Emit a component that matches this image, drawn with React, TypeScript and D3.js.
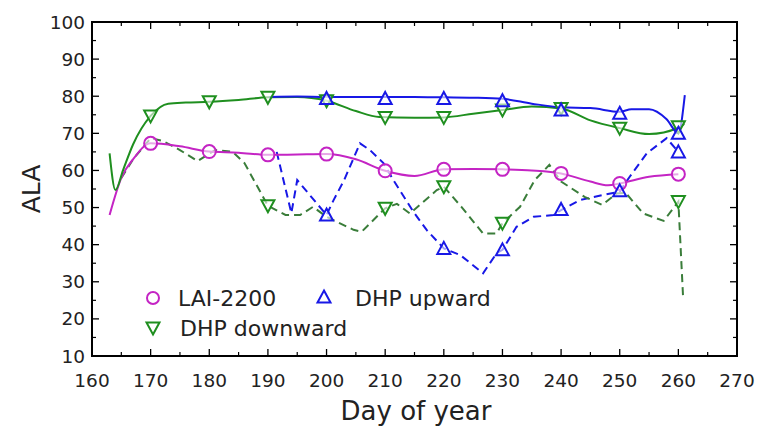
import { useEffect } from 'react'
import * as d3 from 'd3'

// valores (dia do ano / ALA em graus)
const laiLineDays = [163, 165, 167, 170, 175, 180, 185, 190, 195, 200, 205, 210, 215, 220, 225, 230, 235, 240, 245, 248, 250, 255, 260]
const laiLineVals = [48, 58, 63, 67.3, 66.5, 65.1, 64.8, 64.2, 64.3, 64.4, 63, 59.9, 58.5, 60.3, 60.4, 60.3, 60, 59.2, 57, 56, 56.5, 58.3, 59]
const laiMarkDays = [170, 180, 190, 200, 210, 220, 230, 240, 250, 260]
const laiMarkVals = [67.3, 65.1, 64.2, 64.4, 59.9, 60.3, 60.3, 59.2, 56.5, 59]

const downSolidDays = [163, 164, 165.3, 167, 170, 173, 176, 180, 185, 190, 195, 200, 205, 209, 215, 220, 225, 230, 235, 240, 245, 250, 255, 260, 261]
const downSolidVals = [64.6, 54.7, 60.1, 67, 74.7, 78, 78.3, 78.5, 79, 79.7, 79.8, 78.8, 76, 74.4, 74.2, 74.3, 75.3, 76.3, 77.2, 76.7, 73.5, 71.4, 69.8, 71.5, 72.5]
const downSolidMarkDays = [170, 180, 190, 200, 210, 220, 230, 240, 250, 260]
const downSolidMarkVals = [74.7, 78.5, 79.7, 78.8, 74.3, 74.3, 76.3, 76.7, 71.4, 71.8]

const downDashDays = [165, 167, 170, 172, 175, 178, 181, 184, 186, 190, 193, 195.5, 197.7, 200, 204.6, 206, 210, 212, 214.2, 218.8, 220, 223, 226.7, 229, 230, 233, 235.5, 238, 240, 244, 247, 249.5, 251, 254, 257.5, 260, 260.8]
const downDashVals = [58, 63, 68.7, 68, 65.5, 62.5, 65.5, 65, 62, 50.5, 48, 48, 50.2, 47.5, 44, 43.5, 49.8, 51, 48.4, 54.7, 55.6, 50.2, 43, 43, 45.8, 50.2, 57.4, 61.5, 57, 52.9, 50.7, 53.8, 54, 48.4, 46.4, 51.6, 26]
const downDashMarkDays = [190, 210, 220, 230, 260]
const downDashMarkVals = [50.5, 49.8, 55.6, 45.8, 51.6]

const upSolidDays = [190.3, 195, 200, 205, 210, 215, 220, 225, 230, 235, 240, 245, 250, 252, 255, 258, 260, 261.1]
const upSolidVals = [79.8, 79.9, 79.8, 79.8, 79.8, 79.8, 79.7, 79.6, 79.3, 78, 77, 76.8, 75.8, 76.5, 76.5, 73.8, 70, 80.3]
const upSolidMarkDays = [200, 210, 220, 230, 240, 250, 260]
const upSolidMarkVals = [79.4, 79.4, 79.4, 78.8, 76.3, 75.4, 70]

const upDashDays = [191.5, 194, 195, 200, 201.2, 203, 205.7, 207.4, 209.7, 211.4, 214.8, 217.1, 220, 222.8, 226.7, 229, 230, 232.4, 235.3, 238.7, 240, 243.2, 247.2, 250, 251.7, 254.6, 258, 260]
const upDashVals = [65, 48.5, 57.4, 48, 52, 57.4, 67.3, 65.5, 62, 57.4, 48.9, 43.9, 39, 37.2, 32.3, 37.7, 38.6, 44.8, 47.5, 48, 49.3, 52, 53.4, 54.3, 58.3, 64.6, 68.7, 65]
const upDashMarkDays = [200, 220, 230, 240, 250, 260]
const upDashMarkVals = [48, 39, 38.6, 49.5, 54.5, 65]

const xTicks = d3.range(160, 271, 10)
const yTicks = d3.range(10, 101, 10)

const MAGENTA = '#c424c4'
const GREEN = '#1f8f1f'
const GREEN_DASH = '#3a7d3a'
const BLUE = '#1818e6'

const W = 757, H = 428
const M = { left: 92, right: 737, top: 22, bottom: 356 }

export default function App() {
  useEffect(() => { document.body.style.margin = '0' }, [])

  const x = d3.scaleLinear().domain([160, 270]).range([M.left, M.right])
  const y = d3.scaleLinear().domain([10, 100]).range([M.bottom, M.top])

  const smooth = d3.line<[number, number]>().x(d => x(d[0])).y(d => y(d[1])).curve(d3.curveMonotoneX)
  const straight = d3.line<[number, number]>().x(d => x(d[0])).y(d => y(d[1]))
  const zip = (a: number[], b: number[]) => a.map((v, i) => [v, b[i]] as [number, number])

  const tri = (cx: number, cy: number, up: boolean) => {
    const hw = 6.5, hh = 5.5
    return up
      ? `M${cx},${cy - hh - 1}L${cx + hw},${cy + hh}L${cx - hw},${cy + hh}Z`
      : `M${cx},${cy + hh + 1}L${cx + hw},${cy - hh}L${cx - hw},${cy - hh}Z`
  }

  const xMinor = d3.range(165, 270, 10)
  const yMinor = d3.range(15, 100, 10)

  return (
    <svg width={W} height={H} style={{ display: 'block', background: '#fff', fontFamily: 'DejaVu Sans' }}>
      {/* linhas */}
      <path d={straight(zip(upDashDays, upDashVals))!} fill="none" stroke={BLUE} strokeWidth={2} strokeDasharray="8,5" />
      <path d={straight(zip(downDashDays, downDashVals))!} fill="none" stroke={GREEN_DASH} strokeWidth={2} strokeDasharray="8,5" />
      <path d={smooth(zip(laiLineDays, laiLineVals))!} fill="none" stroke={MAGENTA} strokeWidth={2} />
      <path d={smooth(zip(downSolidDays, downSolidVals))!} fill="none" stroke={GREEN} strokeWidth={2} />
      <path d={smooth(zip(upSolidDays, upSolidVals))!} fill="none" stroke={BLUE} strokeWidth={2} />

      {/* marcadores */}
      {downDashMarkDays.map((d, i) => (
        <path key={'dd' + i} d={tri(x(d), y(downDashMarkVals[i]), false)} fill="#fff" fillOpacity={0.6} stroke={GREEN} strokeWidth={2} />
      ))}
      {downSolidMarkDays.map((d, i) => (
        <path key={'ds' + i} d={tri(x(d), y(downSolidMarkVals[i]), false)} fill="#fff" fillOpacity={0.6} stroke={GREEN} strokeWidth={2} />
      ))}
      {laiMarkDays.map((d, i) => (
        <circle key={'l' + i} cx={x(d)} cy={y(laiMarkVals[i])} r={6.5} fill="#fff" fillOpacity={0.6} stroke={MAGENTA} strokeWidth={2} />
      ))}
      {upDashMarkDays.map((d, i) => (
        <path key={'ud' + i} d={tri(x(d), y(upDashMarkVals[i]), true)} fill="#fff" fillOpacity={0.6} stroke={BLUE} strokeWidth={2} />
      ))}
      {upSolidMarkDays.map((d, i) => (
        <path key={'us' + i} d={tri(x(d), y(upSolidMarkVals[i]), true)} fill="#fff" fillOpacity={0.6} stroke={BLUE} strokeWidth={2} />
      ))}

      {/* ticks para dentro */}
      {xTicks.map(t => (
        <g key={'xt' + t}>
          <line x1={x(t)} x2={x(t)} y1={M.bottom} y2={M.bottom - 7} stroke="#000" strokeWidth={1.3} />
          <line x1={x(t)} x2={x(t)} y1={M.top} y2={M.top + 7} stroke="#000" strokeWidth={1.3} />
          <text x={x(t)} y={M.bottom + 31} textAnchor="middle" fontSize={18.5} fill="#222">{t}</text>
        </g>
      ))}
      {xMinor.map(t => (
        <g key={'xm' + t}>
          <line x1={x(t)} x2={x(t)} y1={M.bottom} y2={M.bottom - 4} stroke="#000" strokeWidth={1.2} />
          <line x1={x(t)} x2={x(t)} y1={M.top} y2={M.top + 4} stroke="#000" strokeWidth={1.2} />
        </g>
      ))}
      {yTicks.map(t => (
        <g key={'yt' + t}>
          <line x1={M.left} x2={M.left + 7} y1={y(t)} y2={y(t)} stroke="#000" strokeWidth={1.3} />
          <line x1={M.right} x2={M.right - 7} y1={y(t)} y2={y(t)} stroke="#000" strokeWidth={1.3} />
          <text x={M.left - 7} y={y(t) + 6.5} textAnchor="end" fontSize={18.5} fill="#222">{t}</text>
        </g>
      ))}
      {yMinor.map(t => (
        <g key={'ym' + t}>
          <line x1={M.left} x2={M.left + 4} y1={y(t)} y2={y(t)} stroke="#000" strokeWidth={1.2} />
          <line x1={M.right} x2={M.right - 4} y1={y(t)} y2={y(t)} stroke="#000" strokeWidth={1.2} />
        </g>
      ))}
      <rect x={M.left} y={M.top} width={M.right - M.left} height={M.bottom - M.top} fill="none" stroke="#000" strokeWidth={2} />

      {/* legenda */}
      <circle cx={153} cy={298} r={6} fill="#fff" stroke={MAGENTA} strokeWidth={2} />
      <text x={178} y={306} fontSize={22} fill="#222">LAI-2200</text>
      <path d={tri(153, 328, false)} fill="#fff" stroke={GREEN} strokeWidth={2} />
      <text x={180} y={336} fontSize={22} fill="#222">DHP downward</text>
      <path d={tri(324, 297, true)} fill="#fff" stroke={BLUE} strokeWidth={2} />
      <text x={355} y={306} fontSize={22} fill="#222">DHP upward</text>

      {/* rótulos dos eixos */}
      <text x={416} y={420} textAnchor="middle" fontSize={26} fill="#222">Day of year</text>
      <text transform={`translate(40,${(M.top + M.bottom) / 2}) rotate(-90)`} textAnchor="middle" fontSize={25} fill="#222">ALA</text>
    </svg>
  )
}
